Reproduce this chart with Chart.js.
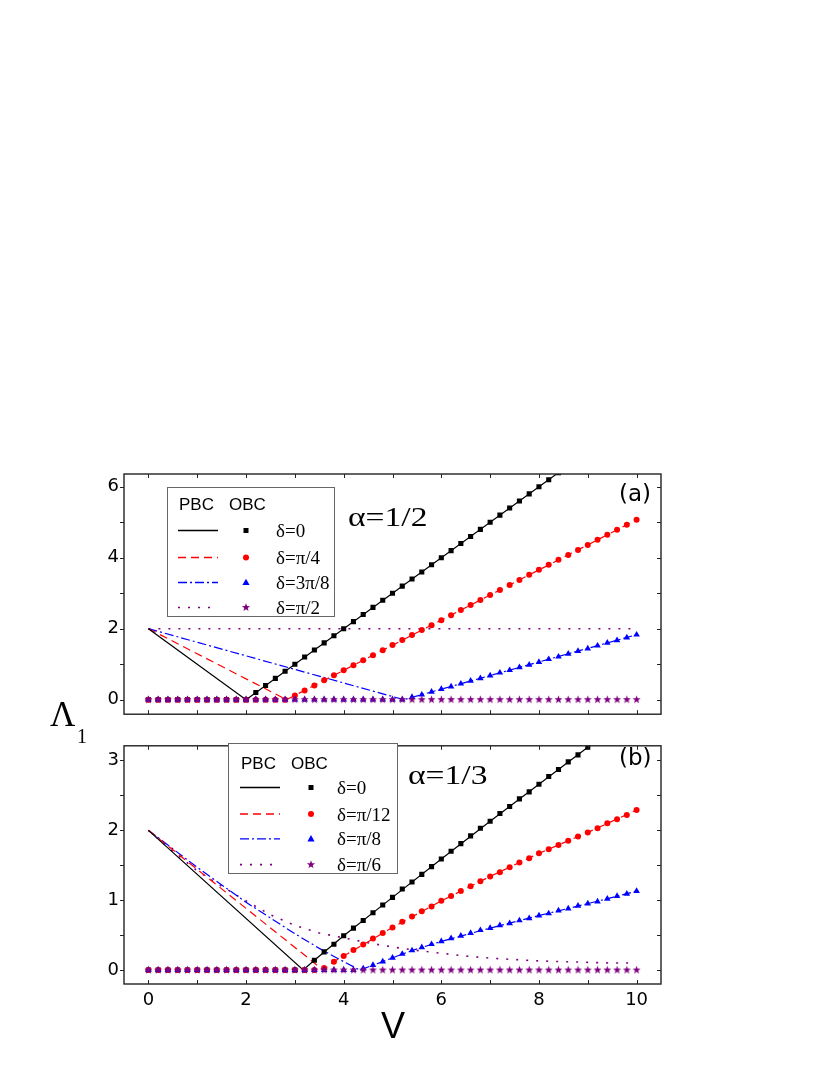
<!DOCTYPE html>
<html>
<head>
<meta charset="utf-8">
<script src="https://cdn.jsdelivr.net/npm/chart.js"></script>
<style>
  body { margin: 0; background: #fff; }
  #page { position: relative; width: 830px; height: 1075px; overflow: hidden; }
  canvas { position: absolute; left: 0; }
  .txt { position: absolute; line-height: 1; white-space: nowrap; color: #000; }
  .sans { font-family: "Liberation Sans", Arial, sans-serif; }
  .wide { font-family: "DejaVu Sans", sans-serif; }
  .serif { font-family: "Liberation Serif", "Times New Roman", serif; }
  .stretch { transform: scaleX(1.2); transform-origin: left center; }
  .legend { position: absolute; border: 1px solid #666; background: #fff; box-sizing: border-box; }
  .legend svg { position: absolute; left: 0; top: 0; }
</style>
</head>
<body>
<div id="page">
  <canvas id="chartA" width="830" height="290" style="top:440px"></canvas>
  <canvas id="chartB" width="830" height="345" style="top:730px"></canvas>

  <div class="txt serif stretch" style="left:348px;top:503px;font-size:28px">α=1/2</div>
  <div class="txt serif stretch" style="left:408px;top:761px;font-size:28px">α=1/3</div>
  <div class="txt wide" style="left:619px;top:482px;font-size:23px">(a)</div>
  <div class="txt wide" style="left:619px;top:746px;font-size:23px">(b)</div>
  <div class="txt serif" style="left:50px;top:697px;font-size:35px">Λ</div>
  <div class="txt serif" style="left:77px;top:726px;font-size:20px">1</div>
  <div class="txt sans" style="left:381px;top:1008px;font-size:36px">V</div>
</div>
<script>
// grid of V used for the OBC points (step 0.2)
const vGrid = [0, 0.2, 0.4, 0.6, 0.8, 1, 1.2, 1.4, 1.6, 1.8, 2, 2.2, 2.4, 2.6, 2.8, 3, 3.2, 3.4, 3.6, 3.8,
  4, 4.2, 4.4, 4.6, 4.8, 5, 5.2, 5.4, 5.6, 5.8, 6, 6.2, 6.4, 6.6, 6.8, 7, 7.2, 7.4, 7.6, 7.8,
  8, 8.2, 8.4, 8.6, 8.8, 9, 9.2, 9.4, 9.6, 9.8, 10];

const xTicks = [0, 1, 2, 3, 4, 5, 6, 7, 8, 9, 10];
const yTicksA = [0, 1, 2, 3, 4, 5, 6];
const yTicksB = [0, 0.5, 1, 1.5, 2, 2.5, 3];

const deltaLabelsA = ['δ=0', 'δ=π/4', 'δ=3π/8', 'δ=π/2'];
const deltaLabelsB = ['δ=0', 'δ=π/12', 'δ=π/8', 'δ=π/6'];

// ---- panel (a), alpha = 1/2 ----
// PBC lines
const pbcA0V = [0, 2, 8.4],          pbcA0L = [2, 0, 6.4];
const pbcA1V = [0, 2.83, 10],        pbcA1L = [2, 0, 5.07];
const pbcA2V = [0, 5.23, 10],        pbcA2L = [2, 0, 1.83];
const pbcA3V = [0, 10],              pbcA3L = [2, 2];
// OBC points (on vGrid)
const obcA0 = [0, 0, 0, 0, 0, 0, 0, 0, 0, 0, 0,
  0.2, 0.4, 0.6, 0.8, 1.0, 1.2, 1.4, 1.6, 1.8, 2.0, 2.2, 2.4, 2.6, 2.8, 3.0, 3.2,
  3.4, 3.6, 3.8, 4.0, 4.2, 4.4, 4.6, 4.8, 5.0, 5.2, 5.4, 5.6, 5.8, 6.0, 6.2, 6.4];
const obcA1 = [0, 0, 0, 0, 0, 0, 0, 0, 0, 0, 0, 0, 0, 0, 0,
  0.12, 0.26, 0.40, 0.55, 0.69, 0.83, 0.97, 1.11, 1.25, 1.39, 1.54, 1.68, 1.82, 1.96, 2.10,
  2.24, 2.38, 2.53, 2.67, 2.81, 2.95, 3.09, 3.23, 3.37, 3.52, 3.66, 3.80, 3.94, 4.08, 4.22,
  4.36, 4.51, 4.65, 4.79, 4.93, 5.07];
const obcA2 = [0, 0, 0, 0, 0, 0, 0, 0, 0, 0, 0, 0, 0, 0, 0, 0, 0, 0, 0, 0, 0, 0, 0, 0, 0, 0, 0,
  0.07, 0.14, 0.22, 0.30, 0.37, 0.45, 0.53, 0.60, 0.68, 0.76, 0.83, 0.91, 0.98,
  1.06, 1.14, 1.21, 1.29, 1.37, 1.44, 1.52, 1.60, 1.67, 1.75, 1.83];
const obcA3 = [0, 0, 0, 0, 0, 0, 0, 0, 0, 0, 0, 0, 0, 0, 0, 0, 0, 0, 0, 0, 0, 0, 0, 0, 0, 0,
  0, 0, 0, 0, 0, 0, 0, 0, 0, 0, 0, 0, 0, 0, 0, 0, 0, 0, 0, 0, 0, 0, 0, 0, 0];

// ---- panel (b), alpha = 1/3 ----
const pbcB0V = [0, 3.17, 3.4, 4, 5, 6, 7, 8, 9, 9.2];
const pbcB0L = [2, 0, 0.14, 0.49, 1.04, 1.59, 2.13, 2.66, 3.19, 3.29];
const pbcB1V = [0, 3.58, 3.8, 4, 5, 6, 7, 8, 9, 10];
const pbcB1L = [2, 0, 0.12, 0.2, 0.61, 0.99, 1.34, 1.67, 1.97, 2.29];
const pbcB2V = [0, 1, 2, 3, 3.5, 4, 4.33, 4.6, 4.8, 5, 5.4, 6, 7, 8, 9, 10];
const pbcB2L = [2, 1.47, 0.97, 0.52, 0.31, 0.12, 0, 0.07, 0.12, 0.175, 0.28, 0.41, 0.60, 0.78, 0.95, 1.13];
const pbcB3V = [0, 0.5, 1, 1.5, 2, 2.5, 3, 3.5, 4, 4.5, 5, 5.5, 6, 6.5, 7, 7.5, 8, 8.5, 9, 9.5, 9.9];
const pbcB3L = [2, 1.70, 1.42, 1.20, 0.99, 0.79, 0.64, 0.53, 0.46, 0.39, 0.33, 0.28, 0.24, 0.20,
  0.17, 0.15, 0.13, 0.12, 0.11, 0.10, 0.10];
const obcB0 = [0, 0, 0, 0, 0, 0, 0, 0, 0, 0, 0, 0, 0, 0, 0, 0, 0,
  0.14, 0.26, 0.37, 0.49, 0.60, 0.71, 0.82, 0.93, 1.04, 1.16, 1.26, 1.37, 1.48, 1.59, 1.70,
  1.81, 1.92, 2.03, 2.13, 2.24, 2.34, 2.45, 2.55, 2.66, 2.77, 2.87, 2.98, 3.08, 3.19];
const obcB1 = [0, 0, 0, 0, 0, 0, 0, 0, 0, 0, 0, 0, 0, 0, 0, 0, 0, 0,
  0.03, 0.12, 0.20, 0.285, 0.365, 0.45, 0.53, 0.61, 0.69, 0.765, 0.84, 0.91, 0.99, 1.06, 1.13,
  1.20, 1.27, 1.34, 1.40, 1.47, 1.54, 1.60, 1.67, 1.73, 1.79, 1.85, 1.91, 1.97, 2.03, 2.10,
  2.16, 2.22, 2.29];
const obcB2 = [0, 0, 0, 0, 0, 0, 0, 0, 0, 0, 0, 0, 0, 0, 0, 0, 0, 0, 0, 0, 0, 0,
  0.02, 0.07, 0.12, 0.175, 0.23, 0.28, 0.325, 0.37, 0.41, 0.455, 0.49, 0.53, 0.57, 0.60, 0.64,
  0.67, 0.71, 0.74, 0.78, 0.81, 0.85, 0.88, 0.92, 0.95, 0.98, 1.02, 1.06, 1.09, 1.13];
const obcB3 = [0, 0, 0, 0, 0, 0, 0, 0, 0, 0, 0, 0, 0, 0, 0, 0, 0, 0, 0, 0, 0, 0, 0, 0, 0, 0,
  0, 0, 0, 0, 0, 0, 0, 0, 0, 0, 0, 0, 0, 0, 0, 0, 0, 0, 0, 0, 0, 0, 0, 0, 0];

// filled 5-point star used as point style
function starImage(color, r) {
  const c = document.createElement('canvas');
  const s = Math.ceil(r * 2 + 2);
  c.width = c.height = s;
  const g = c.getContext('2d');
  g.fillStyle = color;
  g.beginPath();
  for (let i = 0; i < 10; i++) {
    const rr = i % 2 ? r * 0.42 : r;
    const a = -Math.PI / 2 + i * Math.PI / 5;
    g.lineTo(s / 2 + rr * Math.cos(a), s / 2 + rr * Math.sin(a));
  }
  g.closePath();
  g.fill();
  return c;
}

const styles = [
  { color: '#000000', dash: [], point: 'rect', r: 3.6 },
  { color: '#ff0000', dash: [8, 5], point: 'circle', r: 3 },
  { color: '#0000ff', dash: [9, 3, 2, 3], point: 'triangle', r: 3.8 },
  { color: '#800080', dash: [2, 8], point: starImage('#800080', 4.2), r: 4 }
];

const pts = (vs, ls) => ls.map((l, i) => ({ x: vs[i], y: l }));

function datasets(pbc, obc) {
  const out = [];
  pbc.forEach((p, i) => out.push({
    data: pts(p[0], p[1]), showLine: true, pointRadius: 0,
    borderColor: styles[i].color, borderWidth: i === 3 ? 1.6 : 1.2,
    borderDash: styles[i].dash, order: 10 + i
  }));
  obc.forEach((o, i) => out.push({
    data: pts(vGrid, o), showLine: false, pointStyle: styles[i].point,
    pointRadius: styles[i].r, backgroundColor: styles[i].color,
    borderColor: styles[i].color, borderWidth: 0, order: 4 - i
  }));
  return out;
}

// box frame plus tick marks (x inward, left outward, right inward)
const frameTicks = {
  id: 'frameTicks',
  afterDraw(chart) {
    const { ctx, chartArea: a, scales: { x, y } } = chart;
    ctx.save();
    ctx.strokeStyle = '#222';
    ctx.lineWidth = 1.4;
    ctx.strokeRect(a.left, a.top, a.right - a.left, a.bottom - a.top);
    ctx.lineWidth = 1;
    ctx.beginPath();
    x.ticks.forEach(t => {
      const px = Math.round(x.getPixelForValue(t.value)) + 0.5;
      ctx.moveTo(px, a.bottom); ctx.lineTo(px, a.bottom - 4);
      ctx.moveTo(px, a.top); ctx.lineTo(px, a.top + 4);
    });
    y.ticks.forEach(t => {
      const py = Math.round(y.getPixelForValue(t.value)) + 0.5;
      ctx.moveTo(a.left, py); ctx.lineTo(a.left - 4, py);
      ctx.moveTo(a.right, py); ctx.lineTo(a.right - 4, py);
    });
    ctx.stroke();
    ctx.restore();
  }
};

const tickFont = { family: '"DejaVu Sans", sans-serif', size: 18 };

function makeChart(id, pbc, obc, yMin, yMax, yTicks, yStep, showX, pad) {
  return new Chart(document.getElementById(id), {
    type: 'scatter',
    data: { datasets: datasets(pbc, obc) },
    options: {
      responsive: false, animation: false, devicePixelRatio: 1,
      layout: { padding: pad },
      plugins: { legend: { display: false }, tooltip: { enabled: false } },
      elements: { line: { tension: 0 } },
      scales: {
        x: {
          type: 'linear', min: -0.5, max: 10.5,
          afterBuildTicks: s => { s.ticks = xTicks.map(v => ({ value: v })); },
          afterFit: s => { s.height = showX ? 30 : 0; },
          grid: { display: false, drawTicks: false }, border: { display: false },
          ticks: { display: showX, autoSkip: false, maxRotation: 0, padding: 6, color: '#000', font: tickFont,
            callback: v => (v % 2 === 0 ? v : '') }
        },
        y: {
          type: 'linear', min: yMin, max: yMax,
          afterBuildTicks: s => { s.ticks = yTicks.map(v => ({ value: v })); },
          afterFit: s => { s.width = 124; },
          grid: { display: false, drawTicks: false }, border: { display: false },
          ticks: { autoSkip: false, padding: 5, color: '#000', font: tickFont,
            callback: v => (Math.abs(v / yStep - Math.round(v / yStep)) < 1e-6 ? v : '') }
        }
      }
    },
    plugins: [frameTicks]
  });
}

makeChart('chartA',
  [[pbcA0V, pbcA0L], [pbcA1V, pbcA1L], [pbcA2V, pbcA2L], [pbcA3V, pbcA3L]],
  [obcA0, obcA1, obcA2, obcA3],
  -0.41, 6.36, yTicksA, 2, false, { top: 34, right: 169, bottom: 7, left: 0 });

makeChart('chartB',
  [[pbcB0V, pbcB0L], [pbcB1V, pbcB1L], [pbcB2V, pbcB2L], [pbcB3V, pbcB3L]],
  [obcB0, obcB1, obcB2, obcB3],
  -0.2, 3.21, yTicksB, 1, true, { top: 4, right: 169, bottom: 61, left: 0 });

// legends (HTML + svg samples)
function markerSvg(i, x, y) {
  const c = styles[i].color;
  if (i === 0) return `<rect x="${x - 2.5}" y="${y - 2.5}" width="5" height="5" fill="${c}"/>`;
  if (i === 1) return `<circle cx="${x}" cy="${y}" r="3" fill="${c}"/>`;
  if (i === 2) return `<polygon points="${x},${y - 3.8} ${x + 3.6},${y + 2.6} ${x - 3.6},${y + 2.6}" fill="${c}"/>`;
  let p = '';
  for (let k = 0; k < 10; k++) {
    const rr = k % 2 ? 1.8 : 4.3, a = -Math.PI / 2 + k * Math.PI / 5;
    p += `${(x + rr * Math.cos(a)).toFixed(2)},${(y + rr * Math.sin(a)).toFixed(2)} `;
  }
  return `<polygon points="${p}" fill="${c}"/>`;
}

function legend(box, labels) {
  const el = document.createElement('div');
  el.className = 'legend';
  Object.assign(el.style, { left: box.x + 'px', top: box.y + 'px', width: box.w + 'px', height: box.h + 'px' });
  let svg = `<svg width="${box.w}" height="${box.h}">`;
  box.rows.forEach((cy, i) => {
    svg += `<line x1="${box.l0}" x2="${box.l1}" y1="${cy}" y2="${cy}" stroke="${styles[i].color}" ` +
      `stroke-width="${i === 3 ? 1.6 : 1.3}" stroke-dasharray="${styles[i].dash.join(' ') || 'none'}"/>`;
    svg += markerSvg(i, box.mx, cy);
  });
  svg += '</svg>';
  let html = svg;
  html += `<div class="txt sans" style="left:${box.pbc}px;top:${box.hy - 8.5}px;font-size:17px">PBC</div>`;
  html += `<div class="txt sans" style="left:${box.obc}px;top:${box.hy - 8.5}px;font-size:17px">OBC</div>`;
  labels.forEach((t, i) => {
    html += `<div class="txt serif" style="left:${box.tx}px;top:${box.rows[i] - 9.5}px;font-size:19px">${t}</div>`;
  });
  el.innerHTML = html;
  document.getElementById('page').appendChild(el);
}

legend({ x: 167, y: 487, w: 168, h: 130, hy: 16.5, pbc: 11, obc: 61,
  rows: [42.5, 69.5, 94.5, 119.5], l0: 10, l1: 50, mx: 78, tx: 108 }, deltaLabelsA);
legend({ x: 228, y: 743, w: 170, h: 131, hy: 19, pbc: 12, obc: 62,
  rows: [43.5, 70, 94.8, 120.6], l0: 11, l1: 51, mx: 82, tx: 108 }, deltaLabelsB);
</script>
</body>
</html>
